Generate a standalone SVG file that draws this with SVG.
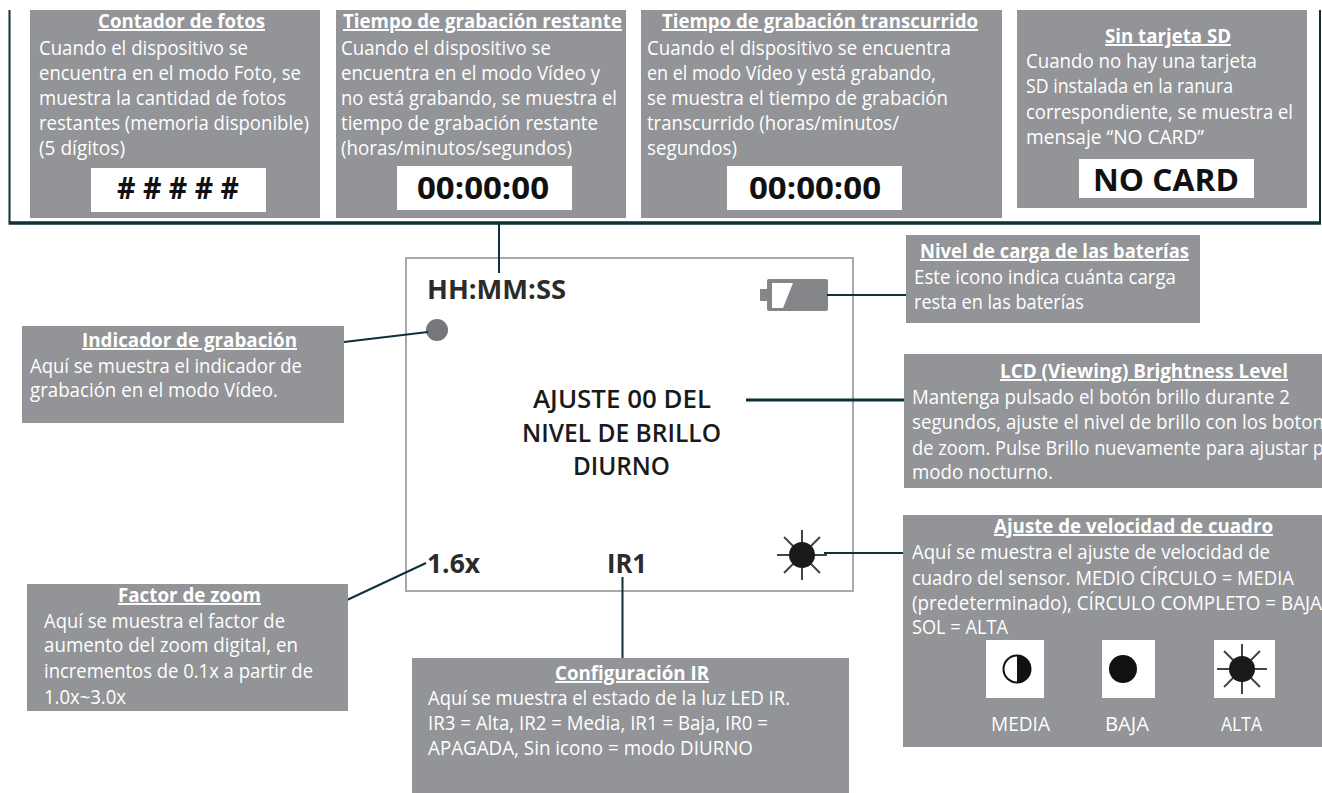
<svg xmlns="http://www.w3.org/2000/svg" width="1322" height="793" viewBox="0 0 1322 793">
<style>
text{font-family:"Open Sans","Noto Sans","Liberation Sans",sans-serif}
.b{fill:#929497}
.w{fill:#fff}
.t{fill:#fff;font-size:19.5px;font-weight:700;text-decoration:underline}
.p{fill:#fff;font-size:19.5px}
.v{fill:#111;font-weight:700;text-anchor:middle}
.l{fill:#2b2b2b;font-weight:700;font-size:27px}
.c{fill:#1a1a1a;font-weight:600;font-size:25px}
.k{stroke:#0b3338;stroke-width:2;fill:none}
.r{stroke:#444;stroke-width:2}
</style>
<defs>
<g id="sun"><path class="r" d="M-25 0H25M0-25V25M-18-18L18 18M-18 18L18-18"/><circle r="13" fill="#1a1a1a"/></g>
</defs>
<g id="lcd">
<rect x="406" y="258" width="447" height="333" fill="#fff" stroke="#a7a9ab" stroke-width="2"/>
<text class="l" x="427" y="299" textLength="139" lengthAdjust="spacingAndGlyphs">HH:MM:SS</text>
<circle cx="437" cy="330" r="11" fill="#77777b"/>
<g id="battery-icon"><rect x="760" y="289" width="8" height="12" fill="#85868a"/><rect x="767" y="279" width="61" height="32" rx="2" fill="#85868a"/><path d="M772 283H793L783 308H772Z" fill="#fff"/></g>
<text class="c" x="533" y="408" textLength="178" lengthAdjust="spacingAndGlyphs">AJUSTE 00 DEL</text>
<text class="c" x="522" y="442" textLength="199" lengthAdjust="spacingAndGlyphs">NIVEL DE BRILLO</text>
<text class="c" x="573" y="475" textLength="97" lengthAdjust="spacingAndGlyphs">DIURNO</text>
<text class="l" x="427" y="573" textLength="53" lengthAdjust="spacingAndGlyphs">1.6x</text>
<text class="l" x="607" y="573" textLength="40" lengthAdjust="spacingAndGlyphs">IR1</text>
<use href="#sun" x="802" y="555"/>
</g>
<g id="connectors">
<path class="k" d="M9.500 10V222M1320 10V222"/>
<path class="k" style="stroke-width:3.500" d="M8.500 223H1321"/>
<path class="k" d="M499 224V273M344 342L428 332M827 295H906M347 600L426 563M622.500 577V658M824 553H903"/>
<path class="k" style="stroke-width:3" d="M746 400H904"/>
</g>
<g id="contador-fotos">
<rect class="b" x="30" y="10" width="290" height="208"/>
<text class="t" x="98" y="28" textLength="167" lengthAdjust="spacingAndGlyphs">Contador de fotos</text>
<text class="p" x="39" y="55" textLength="209" lengthAdjust="spacingAndGlyphs">Cuando el dispositivo se</text>
<text class="p" x="39" y="80" textLength="262" lengthAdjust="spacingAndGlyphs">encuentra en el modo Foto, se</text>
<text class="p" x="39" y="105" textLength="247" lengthAdjust="spacingAndGlyphs">muestra la cantidad de fotos</text>
<text class="p" x="39" y="130" textLength="270" lengthAdjust="spacingAndGlyphs">restantes (memoria disponible)</text>
<text class="p" x="39" y="155" textLength="86" lengthAdjust="spacingAndGlyphs">(5 dígitos)</text>
<rect class="w" x="91" y="168" width="175" height="44"/>
<text class="v" x="178" y="199" font-size="30" textLength="122" lengthAdjust="spacingAndGlyphs">#&#160;#&#160;#&#160;#&#160;#</text>
</g>
<g id="tiempo-restante">
<rect class="b" x="336" y="10" width="290" height="208"/>
<text class="t" x="343" y="28" textLength="279" lengthAdjust="spacingAndGlyphs">Tiempo de grabación restante</text>
<text class="p" x="341" y="55" textLength="210" lengthAdjust="spacingAndGlyphs">Cuando el dispositivo se</text>
<text class="p" x="341" y="80" textLength="259" lengthAdjust="spacingAndGlyphs">encuentra en el modo Vídeo y</text>
<text class="p" x="341" y="105" textLength="276" lengthAdjust="spacingAndGlyphs">no está grabando, se muestra el</text>
<text class="p" x="341" y="130" textLength="257" lengthAdjust="spacingAndGlyphs">tiempo de grabación restante</text>
<text class="p" x="341" y="155" textLength="231" lengthAdjust="spacingAndGlyphs">(horas/minutos/segundos)</text>
<rect class="w" x="397" y="166" width="175" height="44"/>
<text class="v" x="483" y="199" font-size="31" textLength="132" lengthAdjust="spacingAndGlyphs">00:00:00</text>
</g>
<g id="tiempo-transcurrido">
<rect class="b" x="641" y="10" width="361" height="208"/>
<text class="t" x="662" y="28" textLength="316" lengthAdjust="spacingAndGlyphs">Tiempo de grabación transcurrido</text>
<text class="p" x="647" y="55" textLength="304" lengthAdjust="spacingAndGlyphs">Cuando el dispositivo se encuentra</text>
<text class="p" x="647" y="80" textLength="289" lengthAdjust="spacingAndGlyphs">en el modo Vídeo y está grabando,</text>
<text class="p" x="647" y="105" textLength="301" lengthAdjust="spacingAndGlyphs">se muestra el tiempo de grabación</text>
<text class="p" x="647" y="130" textLength="252" lengthAdjust="spacingAndGlyphs">transcurrido (horas/minutos/</text>
<text class="p" x="647" y="155" textLength="90" lengthAdjust="spacingAndGlyphs">segundos)</text>
<rect class="w" x="727" y="166" width="175" height="44"/>
<text class="v" x="815" y="199" font-size="31" textLength="132" lengthAdjust="spacingAndGlyphs">00:00:00</text>
</g>
<g id="sin-tarjeta">
<rect class="b" x="1017" y="10" width="290" height="198"/>
<text class="t" x="1105" y="43" textLength="126" lengthAdjust="spacingAndGlyphs">Sin tarjeta SD</text>
<text class="p" x="1026" y="68" textLength="231" lengthAdjust="spacingAndGlyphs">Cuando no hay una tarjeta</text>
<text class="p" x="1026" y="93" textLength="207" lengthAdjust="spacingAndGlyphs">SD instalada en la ranura</text>
<text class="p" x="1026" y="119" textLength="267" lengthAdjust="spacingAndGlyphs">correspondiente, se muestra el</text>
<text class="p" x="1026" y="144" textLength="178" lengthAdjust="spacingAndGlyphs">mensaje “NO CARD”</text>
<rect class="w" x="1079" y="159" width="175" height="39"/>
<text class="v" x="1166" y="191" font-size="31" textLength="146" lengthAdjust="spacingAndGlyphs">NO CARD</text>
</g>
<g id="nivel-baterias">
<rect class="b" x="906" y="235" width="294" height="88"/>
<text class="t" x="920" y="258" textLength="269" lengthAdjust="spacingAndGlyphs">Nivel de carga de las baterías</text>
<text class="p" x="914" y="284" textLength="262" lengthAdjust="spacingAndGlyphs">Este icono indica cuánta carga</text>
<text class="p" x="914" y="309" textLength="170" lengthAdjust="spacingAndGlyphs">resta en las baterías</text>
</g>
<g id="indicador-grabacion">
<rect class="b" x="22" y="326" width="322" height="97"/>
<text class="t" x="82" y="347" textLength="215" lengthAdjust="spacingAndGlyphs">Indicador de grabación</text>
<text class="p" x="30" y="373" textLength="272" lengthAdjust="spacingAndGlyphs">Aquí se muestra el indicador de</text>
<text class="p" x="30" y="397" textLength="248" lengthAdjust="spacingAndGlyphs">grabación en el modo Vídeo.</text>
</g>
<g id="brillo-lcd">
<rect class="b" x="904" y="354" width="418" height="134"/>
<text class="t" x="1000" y="378" textLength="288" lengthAdjust="spacingAndGlyphs">LCD (Viewing) Brightness Level</text>
<text class="p" x="912" y="404" textLength="378" lengthAdjust="spacingAndGlyphs">Mantenga pulsado el botón brillo durante 2</text>
<text class="p" x="912" y="429" textLength="412" lengthAdjust="spacingAndGlyphs">segundos, ajuste el nivel de brillo con los boton</text>
<text class="p" x="912" y="455" textLength="412" lengthAdjust="spacingAndGlyphs">de zoom. Pulse Brillo nuevamente para ajustar p</text>
<text class="p" x="912" y="479" textLength="141" lengthAdjust="spacingAndGlyphs">modo nocturno.</text>
</g>
<g id="velocidad-cuadro">
<rect class="b" x="903" y="515" width="419" height="232"/>
<text class="t" x="994" y="533" textLength="279" lengthAdjust="spacingAndGlyphs">Ajuste de velocidad de cuadro</text>
<text class="p" x="912" y="559" textLength="358" lengthAdjust="spacingAndGlyphs">Aquí se muestra el ajuste de velocidad de</text>
<text class="p" x="912" y="585" textLength="382" lengthAdjust="spacingAndGlyphs">cuadro del sensor. MEDIO CÍRCULO = MEDIA</text>
<text class="p" x="912" y="610" textLength="410" lengthAdjust="spacingAndGlyphs">(predeterminado), CÍRCULO COMPLETO = BAJA</text>
<text class="p" x="912" y="634" textLength="96" lengthAdjust="spacingAndGlyphs">SOL = ALTA</text>
<rect class="w" x="986" y="640" width="58" height="58"/>
<circle cx="1017" cy="669" r="13.500" fill="#fff" stroke="#111" stroke-width="2"/>
<path d="M1017 655.500A13.500 13.500 0 0 1 1017 682.500Z" fill="#111"/>
<rect class="w" x="1102" y="640" width="53" height="58"/>
<circle cx="1123" cy="669" r="14" fill="#111"/>
<rect class="w" x="1214" y="640" width="61" height="58"/>
<use href="#sun" x="1242" y="669"/>
<text class="p" x="991" y="731" textLength="59" lengthAdjust="spacingAndGlyphs">MEDIA</text>
<text class="p" x="1105" y="731" textLength="44" lengthAdjust="spacingAndGlyphs">BAJA</text>
<text class="p" x="1221" y="731" textLength="41" lengthAdjust="spacingAndGlyphs">ALTA</text>
</g>
<g id="factor-zoom">
<rect class="b" x="27" y="584" width="321" height="127"/>
<text class="t" x="118" y="602" textLength="143" lengthAdjust="spacingAndGlyphs">Factor de zoom</text>
<text class="p" x="44" y="628" textLength="241" lengthAdjust="spacingAndGlyphs">Aquí se muestra el factor de</text>
<text class="p" x="44" y="652" textLength="254" lengthAdjust="spacingAndGlyphs">aumento del zoom digital, en</text>
<text class="p" x="44" y="678" textLength="269" lengthAdjust="spacingAndGlyphs">incrementos de 0.1x a partir de</text>
<text class="p" x="44" y="704" textLength="82" lengthAdjust="spacingAndGlyphs">1.0x~3.0x</text>
</g>
<g id="configuracion-ir">
<rect class="b" x="412" y="658" width="437" height="135"/>
<text class="t" x="555" y="680" textLength="154" lengthAdjust="spacingAndGlyphs">Configuración IR</text>
<text class="p" x="428" y="705" textLength="362" lengthAdjust="spacingAndGlyphs">Aquí se muestra el estado de la luz LED IR.</text>
<text class="p" x="428" y="730" textLength="340" lengthAdjust="spacingAndGlyphs">IR3 = Alta, IR2 = Media, IR1 = Baja, IR0 =</text>
<text class="p" x="428" y="755" textLength="325" lengthAdjust="spacingAndGlyphs">APAGADA, Sin icono = modo DIURNO</text>
</g>
</svg>
